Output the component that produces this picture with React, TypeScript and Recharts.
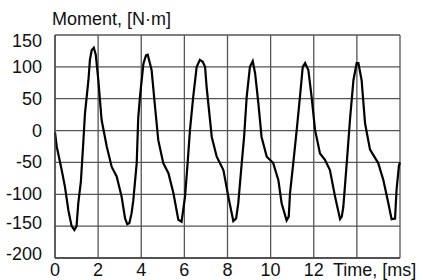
import { LineChart, Line, XAxis, YAxis, CartesianGrid } from "recharts";

// time, ms
const timeMs = [
  0, 0.08, 0.31, 0.46, 0.62, 0.77, 0.9, 1.0, 1.08, 1.2, 1.31, 1.39, 1.55, 1.62, 1.7, 1.8, 1.89,
  2.01, 2.16, 2.4, 2.63, 2.86, 3.09, 3.25, 3.35, 3.45, 3.55, 3.63, 3.79, 3.86, 3.94, 4.1, 4.22,
  4.3, 4.48, 4.64, 4.79, 5.02, 5.26, 5.49, 5.72, 5.87, 6.03, 6.15, 6.26, 6.41, 6.57, 6.72, 6.85,
  6.96, 7.03, 7.27, 7.5, 7.81, 8.04, 8.27, 8.4, 8.5, 8.66, 8.77, 8.89, 9.04, 9.17, 9.28, 9.43,
  9.58, 9.82, 10.12, 10.36, 10.51, 10.74, 10.84, 10.9, 11.05, 11.21, 11.36, 11.49, 11.6, 11.75,
  11.9, 12.06, 12.29, 12.52, 12.75, 12.99, 13.22, 13.3, 13.37, 13.53, 13.68, 13.84, 13.99, 14.07,
  14.22, 14.38, 14.61, 14.99, 15.23, 15.46, 15.61, 15.77, 15.84, 15.95, 16,
];
// moment, N·m
const momentNm = [
  -3, -25, -62, -88, -125, -150, -156, -150, -114, -80, -20, 27, 79, 111, 126, 130, 119,
  79, 17, -25, -57, -72, -104, -138, -147, -145, -130, -110, -51, 20, 53, 105, 118,
  119, 95, 37, -15, -51, -67, -98, -140, -143, -104, -51, 1, 53, 100, 111, 108,
  100, 69, -10, -41, -62, -104, -142, -138, -114, -51, -10, 53, 100, 109, 90, 43,
  -10, -41, -51, -78, -114, -141, -135, -98, -51, 1, 53, 100, 106, 95,
  53, 1, -36, -46, -62, -104, -139, -135, -120, -51, 17, 79, 106, 106,
  79, 11, -30, -51, -78, -114, -139, -138, -93, -55, -50,
];
const xTicks = [0, 2, 4, 6, 8, 10, 12, 14, 16];
const yTicks = [-200, -150, -100, -50, 0, 50, 100, 150];

const data = timeMs.map((t, i) => ({ t, m: momentNm[i] }));

const FONT = "'Liberation Sans', Arial, sans-serif";

function XTick({ x, y, payload }: any) {
  const v = payload.value;
  if (v === 16) return null;
  if (v === 14)
    return (
      <text x={x - 24} y={y + 10} fontSize={18} fontFamily={FONT} fill="#111" textAnchor="start">
        Time, [ms]
      </text>
    );
  return (
    <text x={x} y={y + 10} fontSize={18} fontFamily={FONT} fill="#111" textAnchor="middle">
      {v}
    </text>
  );
}

function YTick({ x, y, payload }: any) {
  const v = payload.value;
  const dy = v === 150 ? 6 : v === -200 ? -4 : v === -150 ? -3 : 0;
  return (
    <text x={x - 5} y={y + dy + 6} fontSize={18} fontFamily={FONT} fill="#111" textAnchor="end">
      {v}
    </text>
  );
}

export default function App() {
  return (
    <div style={{ position: "absolute", left: 0, top: 0, width: 423, height: 280, background: "#fff" }}>
      <div style={{ position: "absolute", left: 52, top: 8, fontFamily: FONT, fontSize: 18, color: "#111", lineHeight: "22px" }}>
        Moment, [N·m]
      </div>
      <LineChart width={423} height={280} data={data} margin={{ top: 35, right: 23, left: 0, bottom: 0 }}>
        <CartesianGrid stroke="#555" strokeWidth={1.3} />
        <XAxis
          dataKey="t" type="number" domain={[0, 16]} ticks={xTicks} height={22}
          tick={<XTick />} tickLine={false} axisLine={{ stroke: "#444", strokeWidth: 1.3 }} interval={0}
        />
        <YAxis
          type="number" domain={[-200, 150]} ticks={yTicks} width={55}
          tick={<YTick />} tickLine={false} axisLine={{ stroke: "#444", strokeWidth: 1.3 }} interval={0}
        />
        <Line type="linear" dataKey="m" stroke="#000" strokeWidth={2.2} dot={false} isAnimationActive={false} />
      </LineChart>
    </div>
  );
}
